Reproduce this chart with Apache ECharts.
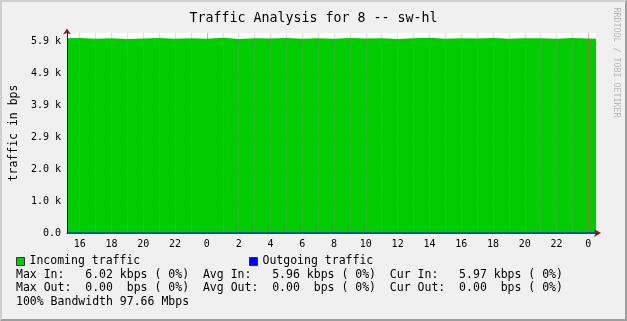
<!DOCTYPE html>
<html>
<head>
<meta charset="utf-8">
<script src="https://cdn.jsdelivr.net/npm/echarts@6/dist/echarts.min.js"></script>
<style>
  html, body { margin: 0; padding: 0; background: #f0f0f0; }
  #wrap { position: relative; width: 627px; height: 321px; }
  #chart { position: absolute; left: 0; top: 0; width: 627px; height: 321px; }
  #frame { position: absolute; left: 0; top: 0; width: 627px; height: 321px; box-sizing: border-box;
           border-top: 2px solid #cfcfcf; border-left: 2px solid #cfcfcf;
           border-bottom: 2px solid #9e9e9e; border-right: 2px solid #9e9e9e; pointer-events: none; }
</style>
</head>
<body>
<div id="wrap"><div id="chart"></div><div id="frame"></div></div>
<script>
// ---- data ----
const titleText = 'Traffic Analysis for 8 -- sw-hl';
const yAxisTitle = 'traffic in bps';
const seriesNames = ['Incoming traffic', 'Outgoing traffic'];
// hours since the first day's midnight (24 = midnight, 48 = next midnight)
const timeHours = [15.2, 16, 17, 18, 19, 20, 21, 22, 23, 24, 25, 26, 27, 28, 29, 30, 31, 32, 33,
                   34, 35, 36, 37, 38, 39, 40, 41, 42, 43, 44, 45, 46, 47, 48, 48.48];
const incomingBps = [5980, 5990, 5970, 5985, 5960, 5975, 5990, 5965, 5980, 5970, 5995, 5960,
                     5985, 5975, 5990, 5970, 5980, 5965, 5990, 5975, 5985, 5960, 5980, 5995,
                     5970, 5985, 5975, 5990, 5965, 5980, 5985, 5970, 5990, 5975, 5970];
const outgoingBps = [0, 0, 0, 0, 0, 0, 0, 0, 0, 0, 0, 0, 0, 0, 0, 0, 0, 0, 0,
                     0, 0, 0, 0, 0, 0, 0, 0, 0, 0, 0, 0, 0, 0, 0, 0];
const yTickValues = [0, 983.04, 1966.08, 2949.12, 3932.16, 4915.2, 5898.24];
const yMax = 6144;
const xMin = 15.2, xMax = 48.48;
const xLabelHours = [16, 18, 20, 22, 24, 26, 28, 30, 32, 34, 36, 38, 40, 42, 44, 46, 48];
const xGridHours = [16, 17, 18, 19, 20, 21, 22, 23, 25, 26, 27, 28, 29, 30, 31, 32, 33, 34,
                    35, 36, 37, 38, 39, 40, 41, 42, 43, 44, 45, 46, 47];
const midnightHours = [24, 48];
const statLines = [
  'Max In:   6.02 kbps ( 0%)  Avg In:   5.96 kbps ( 0%)  Cur In:   5.97 kbps ( 0%)',
  'Max Out:  0.00  bps ( 0%)  Avg Out:  0.00  bps ( 0%)  Cur Out:  0.00  bps ( 0%)',
  '100% Bandwidth 97.66 Mbps'
];
const watermark = 'RRDTOOL / TOBI OETIKER';

// ---- chart ----
const MONO = '"DejaVu Sans Mono", monospace';
const GREEN = '#00cc00', BLUE = '#0000ff';
const AXIS = '#1f1f1f', ARROW = '#801f1f';
const MINOR = 'rgba(143,143,143,0.3)', MAJOR = 'rgba(222,79,79,0.55)';

const chart = echarts.init(document.getElementById('chart'), null, { renderer: 'canvas' });
const inc = timeHours.map((h, i) => [h, incomingBps[i]]);
const out = timeHours.map((h, i) => [h, outgoingBps[i]]);

chart.setOption({
  animation: false,
  backgroundColor: 'transparent',
  title: [
    { text: titleText, left: 'center', top: 11, padding: 0,
      textStyle: { fontFamily: MONO, fontSize: 13.3, fontWeight: 'normal', color: '#000', lineHeight: 16 } },
    { text: statLines.join('\n'), left: 16, top: 267.8, padding: 0,
      textStyle: { fontFamily: MONO, fontSize: 11.5, fontWeight: 'normal', color: '#000', lineHeight: 13.6 } }
  ],
  legend: [
    { data: [seriesNames[0]], left: 16, top: 254.5, padding: 0, icon: 'rect', itemWidth: 8, itemHeight: 8, itemGap: 0,
      itemStyle: { borderColor: '#333', borderWidth: 1 },
      textStyle: { fontFamily: MONO, fontSize: 11.5, color: '#000', lineHeight: 14, padding: [0, 0, 0, 0] } },
    { data: [seriesNames[1]], left: 249, top: 254.5, padding: 0, icon: 'rect', itemWidth: 8, itemHeight: 8, itemGap: 0,
      itemStyle: { borderColor: '#333', borderWidth: 1 },
      textStyle: { fontFamily: MONO, fontSize: 11.5, color: '#000', lineHeight: 14, padding: [0, 0, 0, 0] } }
  ],
  grid: { left: 67, right: 31, top: 33, bottom: 88, show: true, backgroundColor: '#ffffff', borderWidth: 0,
          containLabel: false, outerBoundsMode: 'none' },
  xAxis: [
    { type: 'value', min: xMin, max: xMax, position: 'bottom', z: 3,
      axisLine: { show: true, lineStyle: { color: AXIS, width: 1 } },
      axisTick: { show: false, customValues: xGridHours },
      axisLabel: { customValues: xLabelHours, margin: 6, fontFamily: MONO, fontSize: 10, color: '#000',
                   formatter: v => String(Math.round(v) % 24) },
      splitLine: { show: true, lineStyle: { color: MINOR, width: 1 } } },
    { type: 'value', min: xMin, max: xMax, position: 'bottom', z: 3,
      axisLine: { show: true, symbol: ['none', 'arrow'], symbolSize: [6, 7], symbolOffset: [0, 5],
                  lineStyle: { color: ARROW, width: 0 } },
      axisTick: { show: false }, axisLabel: { show: false }, splitLine: { show: false } }
  ],
  yAxis: [
    { type: 'value', min: 0, max: yMax, position: 'left', z: 4,
      name: yAxisTitle, nameLocation: 'middle', nameGap: 45, nameRotate: 90,
      nameTextStyle: { fontFamily: MONO, fontSize: 11.5, color: '#000' },
      axisLine: { show: true, lineStyle: { color: AXIS, width: 1 } },
      axisTick: { show: false, customValues: yTickValues },
      axisLabel: { customValues: yTickValues, margin: 6, fontFamily: MONO, fontSize: 10, color: '#000',
                   formatter: v => v === 0 ? '0.0' : (v / 1000).toFixed(1) + ' k' },
      splitLine: { show: true, lineStyle: { color: MAJOR, width: 1, type: 'solid' } } },
    { type: 'value', min: 0, max: yMax, position: 'left', z: 3,
      axisLine: { show: true, symbol: ['none', 'arrow'], symbolSize: [6, 6], symbolOffset: [0, 4.5],
                  lineStyle: { color: ARROW, width: 0 } },
      axisTick: { show: false }, axisLabel: { show: false }, splitLine: { show: false } }
  ],
  series: [
    { name: seriesNames[0], type: 'line', data: inc, xAxisIndex: 0, yAxisIndex: 0, z: 2,
      showSymbol: false, symbol: 'none', step: 'start', color: GREEN,
      lineStyle: { width: 0, color: GREEN }, areaStyle: { color: GREEN, opacity: 1 },
      markLine: { silent: true, symbol: ['none', 'none'], label: { show: false },
                  lineStyle: { color: MAJOR, type: 'solid', width: 1 },
                  data: midnightHours.map(h => ({ xAxis: h })) } },
    { name: seriesNames[1], type: 'line', data: out, xAxisIndex: 0, yAxisIndex: 0, z: 5,
      showSymbol: false, symbol: 'none', color: BLUE, lineStyle: { width: 1, color: BLUE } }
  ],
  graphic: [
    { type: 'text', x: 620, y: 7.5, rotation: -Math.PI / 2, silent: true,
      style: { text: watermark, font: '8.3px ' + MONO, fill: '#b8b8b8', align: 'left', verticalAlign: 'top' } }
  ]
});
</script>
</body>
</html>
